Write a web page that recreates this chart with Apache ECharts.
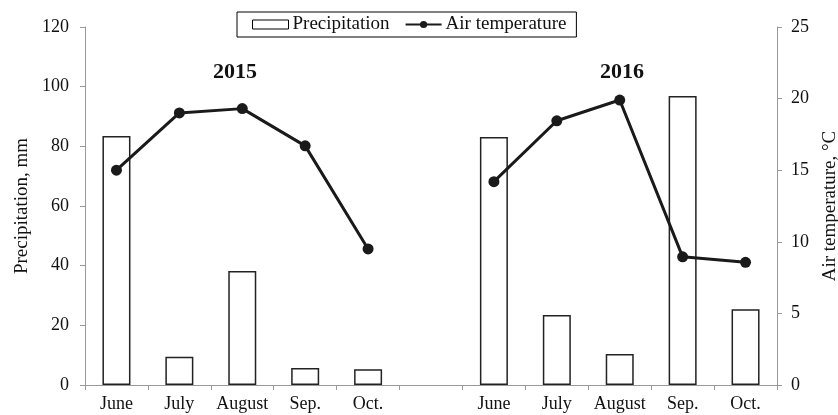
<!DOCTYPE html>
<html><head><meta charset="utf-8">
<script src="https://cdn.jsdelivr.net/npm/echarts@6/dist/echarts.min.js"></script>
<style>html,body{margin:0;padding:0;background:#fff}#c{width:838px;height:415px}</style>
</head><body><div id="c"></div>
<script>
const categories = ['June','July','August','Sep.','Oct.','','June','July','August','Sep.','Oct.'];
const precipitation = [83.5, 9.5, 38.2, 5.7, 5.3, null, 83.1, 23.5, 10.4, 96.9, 25.4];
const airTemperature = [15.0, 19.0, 19.3, 16.7, 9.5, null, 14.2, 18.45, 19.9, 8.95, 8.57];
const leftTicks = [0, 20, 40, 60, 80, 100, 120];
const rightTicks = [0, 5, 10, 15, 20, 25];
const yearLabels = ['2015', '2016'];

const font = 'Liberation Serif';
const chart = echarts.init(document.getElementById('c'));
chart.setOption({
  animation: false,
  textStyle: {fontFamily: font},
  grid: {left: 85, right: 61, top: 27, bottom: 30, containLabel: false, outerBoundsMode: 'none'},
  legend: {
    top: 12, left: 237,
    padding: [3, 10, 3, 15],
    borderColor: '#000', borderWidth: 1,
    itemGap: 15, itemWidth: 36, itemHeight: 9,
    textStyle: {fontFamily: font, fontSize: 19, color: '#111', padding: [0,0,0,-1]},
    data: [
      {name: 'Precipitation', icon: 'rect', itemStyle: {color: '#fff', borderColor: '#000', borderWidth: 1}},
      {name: 'Air temperature'}
    ]
  },
  graphic: [
    {type: 'text', left: 213, top: 61, style: {text: yearLabels[0], font: 'bold 22px "Liberation Serif"', fill: '#111'}},
    {type: 'text', left: 600, top: 61, style: {text: yearLabels[1], font: 'bold 22px "Liberation Serif"', fill: '#111'}}
  ],
  xAxis: {
    type: 'category', data: categories,
    axisLine: {lineStyle: {color: '#999', width: 1}},
    axisTick: {show: true, length: 5, interval: 0, lineStyle: {color: '#999'}},
    axisLabel: {interval: 0, fontFamily: font, fontSize: 18, color: '#111', margin: 10}
  },
  yAxis: [
    {
      type: 'value', min: 0, max: 120, interval: 20,
      name: 'Precipitation, mm', nameLocation: 'middle', nameGap: 53, nameRotate: 90,
      nameTextStyle: {fontFamily: font, fontSize: 19, color: '#111'},
      axisLine: {show: true, lineStyle: {color: '#999'}},
      axisTick: {show: true, length: 5, lineStyle: {color: '#999'}},
      axisLabel: {fontFamily: font, fontSize: 18, color: '#111', margin: 16, customValues: leftTicks},
      splitLine: {show: false}
    },
    {
      type: 'value', min: 0, max: 25, interval: 5, position: 'right',
      name: 'Air temperature, °C', nameLocation: 'middle', nameGap: 44, nameRotate: 90,
      nameTextStyle: {fontFamily: font, fontSize: 19, color: '#111'},
      axisLine: {show: true, lineStyle: {color: '#999'}},
      axisTick: {show: true, length: 5, lineStyle: {color: '#999'}},
      axisLabel: {fontFamily: font, fontSize: 18, color: '#111', margin: 14, customValues: rightTicks},
      splitLine: {show: false}
    }
  ],
  series: [
    {
      name: 'Precipitation', type: 'bar', data: precipitation, barWidth: 28,
      itemStyle: {color: '#fff', borderColor: '#222', borderWidth: 1.5}
    },
    {
      name: 'Air temperature', type: 'line', yAxisIndex: 1, data: airTemperature,
      connectNulls: false, symbol: 'circle', symbolSize: 11,
      lineStyle: {color: '#1a1a1a', width: 3},
      itemStyle: {color: '#1a1a1a'}
    }
  ]
});
</script></body></html>
